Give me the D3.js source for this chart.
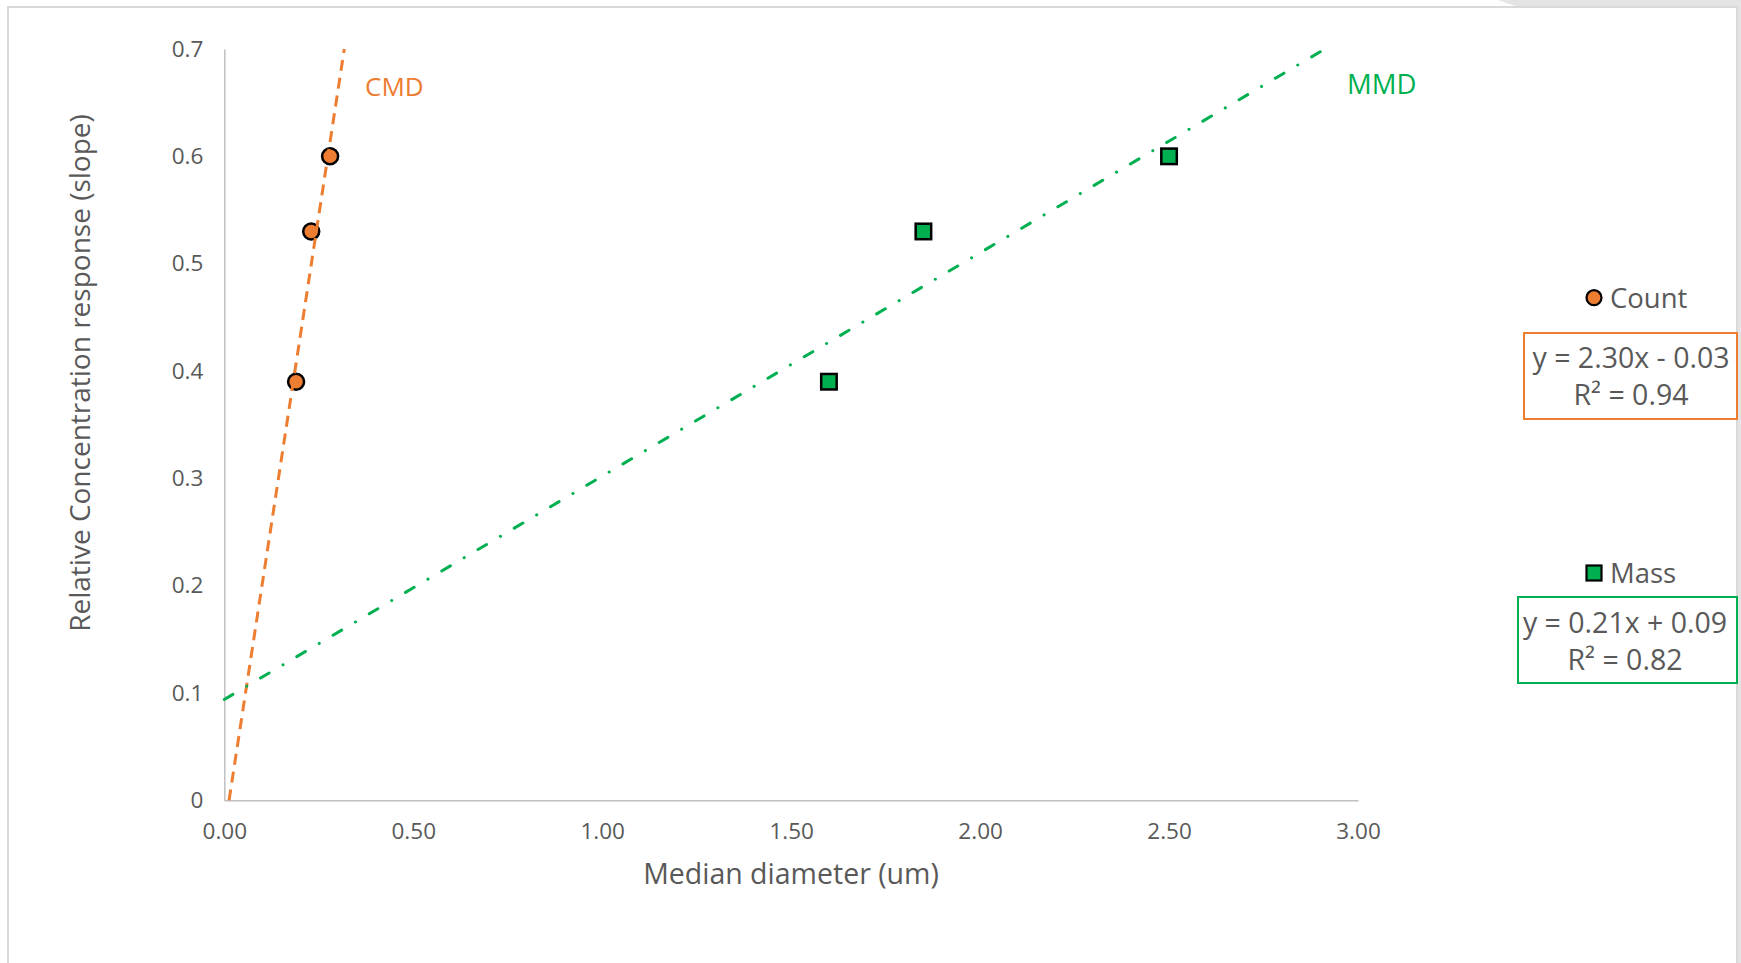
<!DOCTYPE html>
<html>
<head>
<meta charset="utf-8">
<script src="https://cdn.jsdelivr.net/npm/d3@7"></script>
<style>
  html, body { margin: 0; padding: 0; background: #ffffff; }
  svg { display: block; }
  text { font-family: "Open Sans", "Noto Sans", sans-serif; }
</style>
</head>
<body>
<svg id="chart" width="1741" height="963"></svg>
<script>
// ---- data ----
const countX = [0.19, 0.23, 0.28];
const countY = [0.39, 0.53, 0.60];
const massX  = [1.60, 1.85, 2.50];
const massY  = [0.39, 0.53, 0.60];
const xTicks = [0, 0.5, 1.0, 1.5, 2.0, 2.5, 3.0];
const yTicks = [0, 0.1, 0.2, 0.3, 0.4, 0.5, 0.6, 0.7];
const seriesNames = ["Count", "Mass"];
const lineLabels = ["CMD", "MMD"];
const equations = [["y = 2.30x - 0.03", "R\u00B2 = 0.94"], ["y = 0.21x + 0.09", "R\u00B2 = 0.82"]];
const xTitle = "Median diameter (um)";
const yTitle = "Relative Concentration response (slope)";

const ORANGE = "#ED7D31", GREEN = "#00B050", GREY = "#595959";

const svg = d3.select("#chart");

// page frame + shadow
svg.append("polygon").attr("points", "1498,0 1741,0 1741,963 1738,963 1738,7 1518,7").attr("fill", "#e4e4e4");
svg.append("rect").attr("x", 8).attr("y", 7).attr("width", 1729).attr("height", 1000)
  .attr("fill", "#fff").attr("stroke", "#d9d9d9").attr("stroke-width", 2);

const x = d3.scaleLinear().domain([0, 3]).range([224.3, 1358]);
const y = d3.scaleLinear().domain([0, 0.7]).range([800.3, 49]);

// axes
const xAxis = svg.append("g").attr("transform", `translate(0,${y(0)})`)
  .call(d3.axisBottom(x).tickValues(xTicks).tickFormat(d3.format(".2f")).tickSize(0).tickPadding(23));
const yAxis = svg.append("g").attr("transform", `translate(${x(0)},0)`)
  .call(d3.axisLeft(y).tickValues(yTicks).tickFormat(d => d === 0 ? "0" : d3.format(".1f")(d)).tickSize(0).tickPadding(21));
[xAxis, yAxis].forEach(g => {
  g.select(".domain").attr("stroke", "#bfbfbf").attr("stroke-width", 1.5);
  g.selectAll("text").attr("fill", GREY).attr("font-size", 22.5).attr("font-family", "'Open Sans', sans-serif");
});
xAxis.selectAll("text").attr("dy", "0.71em");

// axis titles
svg.append("text").attr("x", 791).attr("y", 884).attr("text-anchor", "middle")
  .attr("fill", GREY).attr("font-size", 28.5).text(xTitle);
svg.append("text").attr("transform", "translate(90,373) rotate(-90)").attr("text-anchor", "middle")
  .attr("fill", GREY).attr("font-size", 28).text(yTitle);

// regression helper
function fit(xs, ys) {
  const mx = d3.mean(xs), my = d3.mean(ys);
  let sxy = 0, sxx = 0;
  xs.forEach((v, i) => { sxy += (v - mx) * (ys[i] - my); sxx += (v - mx) * (v - mx); });
  const m = sxy / sxx; return { m, b: my - m * mx };
}
function clipLine(f) {
  const [x0, x1] = x.domain(), [y0, y1] = y.domain();
  let a = Math.max(x0, (y0 - f.b) / f.m), c = Math.min(x1, (y1 - f.b) / f.m);
  return [[a, f.m * a + f.b], [c, f.m * c + f.b]];
}
const line = d3.line().x(d => x(d[0])).y(d => y(d[1]));

const countPts = countX.map((v, i) => [v, countY[i]]);
const massPts = massX.map((v, i) => [v, massY[i]]);

// markers
svg.append("g").selectAll("circle").data(countPts).join("circle")
  .attr("cx", d => x(d[0])).attr("cy", d => y(d[1])).attr("r", 8)
  .attr("fill", ORANGE).attr("stroke", "#000").attr("stroke-width", 2.5);
svg.append("g").selectAll("rect").data(massPts).join("rect")
  .attr("x", d => x(d[0]) - 7.75).attr("y", d => y(d[1]) - 7.75).attr("width", 15.5).attr("height", 15.5)
  .attr("fill", GREEN).attr("stroke", "#000").attr("stroke-width", 2.5);

// trendlines
svg.append("path").attr("d", line(clipLine(fit(countX, countY))))
  .attr("fill", "none").attr("stroke", ORANGE).attr("stroke-width", 3).attr("stroke-dasharray", "11,7");
svg.append("path").attr("d", line(clipLine(fit(massX, massY))))
  .attr("fill", "none").attr("stroke", GREEN).attr("stroke-width", 3).attr("stroke-linecap", "round")
  .attr("stroke-dasharray", "10,16,0.1,16");

// line labels
svg.append("text").attr("x", 365).attr("y", 96).attr("fill", ORANGE).attr("font-size", 26).text(lineLabels[0]);
svg.append("text").attr("x", 1347).attr("y", 94).attr("fill", GREEN).attr("font-size", 27.5).text(lineLabels[1]);

// legend entries with equation boxes
const legend = [
  { name: seriesNames[0], color: ORANGE, shape: "circle", my: 297.7, box: [1524, 333, 213, 86], eq: equations[0], base: 368 },
  { name: seriesNames[1], color: GREEN, shape: "square", my: 573, box: [1518, 597, 219, 86], eq: equations[1], base: 633 }
];
legend.forEach(L => {
  const g = svg.append("g");
  if (L.shape === "circle") {
    g.append("circle").attr("cx", 1594).attr("cy", L.my).attr("r", 7.5).attr("fill", L.color)
      .attr("stroke", "#000").attr("stroke-width", 2.2);
  } else {
    g.append("rect").attr("x", 1586.5).attr("y", L.my - 7.5).attr("width", 15).attr("height", 15)
      .attr("fill", L.color).attr("stroke", "#000").attr("stroke-width", 2.2);
  }
  g.append("text").attr("x", 1610).attr("y", L.my + 10).attr("fill", GREY).attr("font-size", 27.5).text(L.name);
  g.append("rect").attr("x", L.box[0]).attr("y", L.box[1]).attr("width", L.box[2]).attr("height", L.box[3])
    .attr("fill", "#fff").attr("stroke", L.color).attr("stroke-width", 2);
  L.eq.forEach((t, i) => {
    g.append("text").attr("x", L.box[0] + 107).attr("y", L.base + i * 37).attr("text-anchor", "middle")
      .attr("fill", GREY).attr("font-size", 28.5).text(t);
  });
});
</script>
</body>
</html>
